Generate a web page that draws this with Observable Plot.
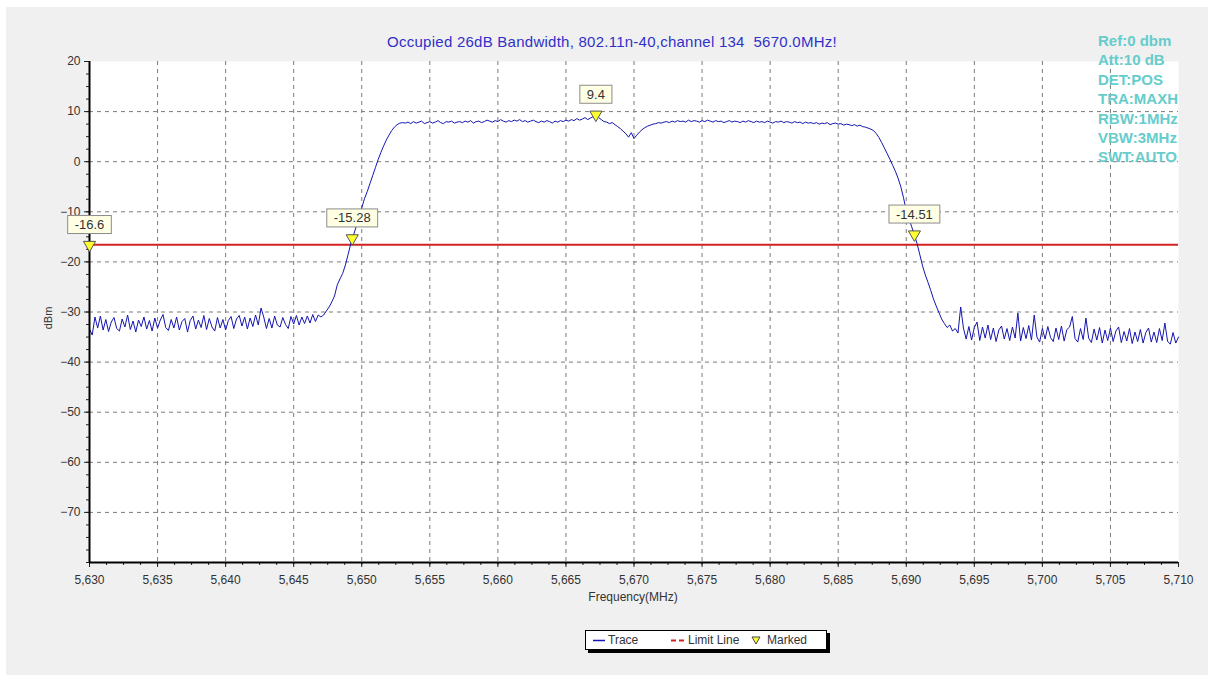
<!DOCTYPE html>
<html>
<head>
<meta charset="utf-8">
<script src="https://cdn.jsdelivr.net/npm/d3@7"></script>
<script src="https://cdn.jsdelivr.net/npm/@observablehq/plot@0.6"></script>
<style>
  html, body { margin: 0; padding: 0; background: #ffffff; }
  #wrap { position: relative; width: 1214px; height: 679px; overflow: hidden; font-family: "Liberation Sans", Arial, sans-serif; }
  #panel { position: absolute; left: 6px; top: 7px; width: 1202px; height: 668px; background: #f0f0f0; }
  #chart { position: absolute; left: 0; top: 0; }
  #title { position: absolute; left: 0; width: 1224px; top: 33px; text-align: center; font-size: 15px; letter-spacing: 0.25px; color: #3030c8; white-space: pre; }
  #info { position: absolute; left: 1098px; top: 31px; width: 112px; z-index: 5; white-space: nowrap; overflow: visible; font-size: 15px; font-weight: bold; color: #66cccc; line-height: 19.4px; }
  #ylab { position: absolute; left: 48px; top: 318px; transform: translate(-50%, -50%) rotate(-90deg); font-size: 11px; color: #333; }
  #xlab { position: absolute; left: 633px; top: 590px; transform: translateX(-50%); font-size: 12px; color: #333; }
  #legend { position: absolute; left: 585px; top: 630px; width: 240px; height: 18px; border: 1px solid #000; background: #fff; box-shadow: 3px 3px 0 #000; font-size: 12px; color: #333; }
  #legend span.item { position: absolute; top: 2px; white-space: nowrap; }
  #legend svg { position: absolute; top: 0; }
</style>
</head>
<body>
<div id="wrap">
  <div id="panel"></div>
  <div id="chart"></div>
  <div id="title">Occupied 26dB Bandwidth, 802.11n-40,channel 134  5670.0MHz!</div>
  <div id="info"></div>
  <div id="ylab">dBm</div>
  <div id="xlab">Frequency(MHz)</div>
  <div id="legend"></div>
</div>
<script>
// ---------- data ----------
const startFreq = 5630;          // MHz, first sample
const sampleStep = 0.2;          // MHz between samples

// 5630.0 – 5646.8 MHz
const leftNoise = [
  -33.4,-34.6,-31.0,-33.2,-30.8,-33.6,-31.5,-33.9,-32.0,-31.1,
  -33.3,-33.8,-31.4,-33.0,-30.6,-33.5,-31.8,-34.0,-31.6,-32.9,
  -31.0,-33.4,-31.7,-33.8,-31.2,-33.2,-31.6,-30.5,-33.1,-33.7,
  -31.5,-33.2,-31.0,-33.6,-31.9,-31.3,-34.0,-31.7,-30.8,-33.4,
  -31.6,-33.1,-30.7,-33.5,-31.3,-33.0,-33.8,-31.1,-33.2,-31.5,
  -33.6,-31.7,-30.9,-33.3,-31.4,-30.7,-32.8,-31.0,-33.4,-31.2,
  -32.9,-30.6,-32.6,-29.2,-31.0,-33.3,-31.3,-33.2,-30.8,-32.6,
  -33.0,-31.1,-32.5,-33.3,-30.9,-32.4,-30.7,-32.6,-31.0,-32.3,
  -30.8,-32.2,-30.5,-31.9,-30.6
];
// 5647.0 – 5653.0 MHz
const leftRise = [
  -31.0,-30.6,-29.8,-29.0,-28.0,-26.8,-24.6,-23.4,-22.3,-20.6,
  -18.5,-16.3,-14.6,-12.9,-11.0,-9.2,-7.4,-6.0,-4.4,-2.8,
  -1.2,0.4,1.8,3.1,4.3,5.3,6.2,6.9,7.4,7.7,7.8
];
// 5653.2 – 5687.6 MHz
const topValues = [
  7.7,7.9,7.6,8.0,7.7,7.9,8.1,7.6,7.8,8.0,
  7.7,7.9,8.2,7.8,7.6,8.0,7.9,8.1,7.7,7.9,
  8.0,7.8,8.1,7.9,8.2,7.7,8.0,8.1,7.8,8.0,
  8.3,8.1,7.9,8.2,8.0,8.4,8.1,7.9,8.2,8.0,
  8.3,8.1,8.4,8.0,8.2,7.9,8.1,8.3,8.0,7.8,
  8.1,7.9,8.2,8.0,7.7,8.1,7.9,8.2,8.0,8.3,
  8.1,8.4,8.2,8.6,8.3,8.5,8.8,8.4,8.7,9.0,
  9.4,8.8,8.4,8.0,7.9,7.6,7.8,7.4,7.0,6.6,
  6.1,5.6,4.9,5.8,4.6,5.3,5.9,6.4,6.8,7.1,
  7.3,7.5,7.6,7.8,7.7,7.9,8.0,7.8,8.1,7.9,
  8.2,8.0,8.1,7.9,8.3,8.0,8.2,8.1,7.9,8.2,
  8.0,8.3,8.1,7.9,8.2,8.0,8.1,7.8,8.0,8.2,
  7.9,8.1,8.0,7.8,8.1,7.9,8.2,8.0,7.8,8.1,
  7.9,8.0,7.8,8.1,7.9,7.7,8.0,7.9,8.1,7.8,
  8.0,7.9,7.7,8.0,7.8,7.9,7.6,7.9,7.7,7.8,
  7.6,7.8,7.5,7.7,7.6,7.8,7.4,7.6,7.7,7.5,
  7.6,7.3,7.5,7.4,7.2,7.4,7.1,7.3,7.0,6.9,
  6.7,6.5,6.2
];
// 5687.8 – 5694.0 MHz
const rightFall = [
  5.6,4.8,3.8,2.7,1.6,0.5,-0.7,-1.9,-3.3,-5.0,
  -7.2,-9.8,-11.4,-13.0,-14.6,-16.4,-18.6,-20.8,-22.6,-24.1,
  -25.7,-27.4,-28.8,-30.1,-31.4,-32.3,-33.1,-32.6,-33.8,-33.3,
  -34.2,-29.0
];
// 5694.2 – 5710.0 MHz
const rightNoise = [
  -33.2,-35.4,-32.9,-35.6,-33.1,-32.0,-35.7,-33.0,-35.2,-32.6,
  -35.5,-33.2,-35.9,-33.6,-32.8,-35.4,-33.3,-35.7,-33.0,-35.2,
  -30.2,-35.8,-33.1,-35.3,-32.7,-35.6,-30.6,-35.0,-36.0,-33.3,
  -35.4,-32.9,-35.1,-35.9,-33.2,-35.5,-32.8,-35.8,-33.5,-33.0,
  -30.9,-35.3,-36.0,-33.3,-35.5,-31.2,-35.2,-36.1,-33.4,-35.6,
  -33.1,-36.2,-33.6,-35.7,-33.2,-35.9,-33.8,-33.0,-36.1,-33.9,
  -35.8,-33.3,-36.3,-34.0,-35.9,-33.5,-36.2,-34.1,-33.2,-36.0,
  -34.0,-36.1,-33.3,-35.7,-32.2,-35.9,-36.4,-34.1,-36.2,-35.0
];

const limitLevel = -16.6;

const markerFreqs  = [5630, 5649.3, 5667.2, 5690.6];
const markerLevels = [-16.6, -15.28, 9.4, -14.51];
const markerLabels = ["-16.6", "-15.28", "9.4", "-14.51"];

const xTicks  = [5630,5635,5640,5645,5650,5655,5660,5665,5670,5675,5680,5685,5690,5695,5700,5705,5710];
const xGrid   = [5635,5640,5645,5650,5655,5660,5665,5670,5675,5680,5685,5690,5695,5700,5705];
const yTicks  = [20,10,0,-10,-20,-30,-40,-50,-60,-70];
const yGrid   = [10,0,-10,-20,-30,-40,-50,-60,-70];

const infoLines = ["Ref:0 dbm","Att:10 dB","DET:POS","TRA:MAXH","RBW:1MHz","VBW:3MHz","SWT:AUTO"];

// ---------- build ----------
const levels = [...leftNoise, ...leftRise, ...topValues, ...rightFall, ...rightNoise];
const trace = levels.map((v, i) => ({f: +(startFreq + i * sampleStep).toFixed(1), v}));
const markers = markerFreqs.map((f, i) => ({f, v: markerLevels[i], label: markerLabels[i]}));
const xMinor = d3.range(5630, 5710.01, 1.25);
const yMinor = d3.range(-80, 20.01, 2.5);

const chart = Plot.plot({
  width: 1214, height: 679,
  marginLeft: 89, marginRight: 36, marginTop: 61, marginBottom: 117,
  style: {background: "transparent", fontFamily: "'Liberation Sans', Arial, sans-serif", fontSize: "12px", color: "#333", overflow: "visible"},
  x: {domain: [5630, 5710]},
  y: {domain: [-80, 20]},
  marks: [
    Plot.frame({fill: "white", stroke: "none"}),
    Plot.ruleX(xGrid, {stroke: "#7a7a7a", strokeDasharray: "4,4", strokeWidth: 1}),
    Plot.ruleY(yGrid, {stroke: "#7a7a7a", strokeDasharray: "4,4", strokeWidth: 1}),
    Plot.ruleY([limitLevel], {stroke: "#d42020", strokeWidth: 2}),
    Plot.line(trace, {x: "f", y: "v", stroke: "#1515b0", strokeWidth: 1}),
    Plot.axisX({ticks: xMinor, tickSize: 3, tickFormat: () => "", label: null, stroke: "#222"}),
    Plot.axisX({ticks: xTicks, tickSize: 5, tickPadding: 8, tickFormat: d3.format(","), label: null, fill: "#333", stroke: "#222"}),
    Plot.axisY({ticks: yMinor, tickSize: 3, tickFormat: () => "", label: null, stroke: "#222"}),
    Plot.axisY({ticks: yTicks, tickSize: 5, tickPadding: 4, label: null, fill: "#333", stroke: "#222"}),
    Plot.ruleX([5630], {stroke: "#000", strokeWidth: 2}),
    Plot.ruleY([-80], {stroke: "#000", strokeWidth: 2}),
    Plot.dot(markers, {x: "f", y: "v", symbol: "triangle", rotate: 180, r: 4.5, fill: "#ffff30", stroke: "#555", strokeWidth: 1}),
    Plot.text(markers, {x: "f", y: "v", text: "label", dy: -20, fontSize: 13, fill: "#333"})
  ]
});
document.getElementById("chart").append(chart);

// label boxes behind marker labels
const labelGroup = chart.querySelector('g[aria-label="text"]');
if (labelGroup) {
  labelGroup.querySelectorAll("text").forEach(t => {
    const b = t.getBBox();
    const r = document.createElementNS("http://www.w3.org/2000/svg", "rect");
    r.setAttribute("x", b.x - 7);
    r.setAttribute("y", b.y - 1.5);
    r.setAttribute("width", b.width + 14);
    r.setAttribute("height", b.height + 3);
    r.setAttribute("fill", "#ffffe4");
    r.setAttribute("stroke", "#8c8c8c");
    r.setAttribute("stroke-width", "1");
    if (t.getAttribute("transform")) r.setAttribute("transform", t.getAttribute("transform"));
    t.parentNode.insertBefore(r, t);
  });
}

// info text
document.getElementById("info").innerHTML = infoLines.map(s => `<div>${s}</div>`).join("");

// legend
document.getElementById("legend").innerHTML = `
  <svg width="14" height="18" style="left:7px"><line x1="0" x2="12" y1="9.5" y2="9.5" stroke="#1515b0" stroke-width="1.5"/></svg>
  <span class="item" style="left:22px">Trace</span>
  <svg width="16" height="18" style="left:85px"><line x1="0" x2="14" y1="9.5" y2="9.5" stroke="#d42020" stroke-width="2" stroke-dasharray="5,3"/></svg>
  <span class="item" style="left:102px">Limit Line</span>
  <svg width="12" height="18" style="left:165px"><path d="M1,6 L9,6 L5,13 Z" fill="#ffff30" stroke="#444" stroke-width="1"/></svg>
  <span class="item" style="left:181px">Marked</span>`;
</script>
</body>
</html>
